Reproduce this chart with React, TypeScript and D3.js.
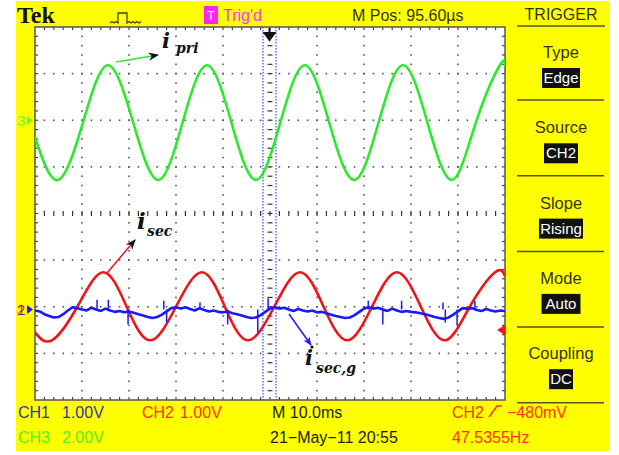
import React from 'react';
import * as d3 from 'd3';

// CH3 (green, 2.00 V/div, marker at +2 div): [time ms, volts]
const ch3Trace: [number, number][] = [
  [0, -0.73], [4.9, -2.56], [10.2, -0.1], [15.5, 2.36], [20.9, -0.1], [26.2, -2.56],
  [31.4, -0.1], [36.6, 2.36], [41.8, -0.1], [47.0, -2.56], [52.2, -0.1], [57.4, 2.36],
  [62.6, -0.1], [67.9, -2.56], [73.1, -0.1], [78.3, 2.36], [83.5, -0.1], [88.7, -2.56],
  [93.8, -0.1], [98.9, 2.36], [100, 2.3],
];
// CH2 (red, 1.00 V/div, marker at -2 div): [time ms, volts]
const ch2Trace: [number, number][] = [
  [0, -0.55], [3.6, -0.72], [9.0, 0], [14.5, 0.74], [19.5, 0], [24.5, -0.72],
  [30.0, 0], [35.5, 0.74], [40.4, 0], [45.3, -0.72], [50.9, 0], [56.4, 0.74],
  [61.4, 0], [66.4, -0.72], [71.7, 0], [77.0, 0.74], [82.1, 0], [87.2, -0.72],
  [92.5, 0], [97.9, 0.74], [100, 0.66],
];
// CH1 (blue, 1.00 V/div, marker at -2 div): volts sampled every 1 ms from 0 to 100 ms
const ch1Trace: number[] = [
  -0.02, -0.04, -0.10, -0.14, -0.17, -0.16, -0.10, -0.02, 0.05, 0.03,
  0.00, -0.02, 0.04, 0.00, -0.03, 0.02, -0.02, -0.05, -0.03, -0.06,
  -0.04, -0.07, -0.10, -0.13, -0.16, -0.18, -0.16, -0.11, -0.04, 0.03,
  0.05, 0.02, 0.05, 0.01, -0.02, 0.03, -0.01, -0.04, -0.02, -0.05,
  -0.06, -0.04, -0.08, -0.10, -0.13, -0.16, -0.18, -0.17, -0.12, -0.05,
  0.02, 0.05, 0.02, 0.04, 0.00, -0.03, 0.01, -0.02, -0.04, -0.02,
  -0.06, -0.05, -0.08, -0.11, -0.14, -0.16, -0.18, -0.17, -0.12, -0.05,
  0.02, 0.05, 0.02, 0.04, 0.00, -0.03, 0.02, -0.02, -0.05, -0.03,
  -0.05, -0.06, -0.08, -0.10, -0.13, -0.16, -0.18, -0.20, -0.17, -0.11,
  -0.04, 0.03, 0.02, 0.03, -0.01, -0.03, 0.01, -0.02, -0.04, -0.02,
  -0.03,
];
// CH1 glitches: [time ms, volts at tip]
const ch1Spikes: [number, number][] = [
  [13.2, 0.21], [15.6, 0.21], [19.8, -0.32], [27.4, 0.19], [28.0, -0.28], [35.1, 0.15],
  [41.0, -0.32], [47.4, -0.5], [49.6, 0.24], [70.9, 0.19], [74.0, -0.32], [78.0, 0.19],
  [86.8, 0.15], [87.3, -0.28], [89.8, -0.34], [93.6, 0.19],
];

const menuLabels = ['Type', 'Source', 'Slope', 'Mode', 'Coupling'];
const menuValues = ['Edge', 'CH2', 'Rising', 'Auto', 'DC'];

// ---------- layout ----------
const W = 619, H = 455;
const X0 = 35, X1 = 505, Y0 = 27, Y1 = 400;
const FONT = "'Liberation Sans', Arial, sans-serif";
const boxW: Record<string, number> = { Edge: 38, CH2: 34, Rising: 44, Auto: 39, DC: 24 };

const x = d3.scaleLinear().domain([0, 100]).range([X0, X1]);
const yDiv = d3.scaleLinear().domain([-4, 4]).range([Y1, Y0]);

const chY = (offset: number, vPerDiv: number) => (v: number) => yDiv(offset + v / vPerDiv);
const y3 = chY(2, 2);
const y2 = chY(-2, 1);
const y1 = chY(-2.06, 1);

const line3 = d3.line<[number, number]>().x(d => x(d[0])).y(d => y3(d[1])).curve(d3.curveNatural);
const line2 = d3.line<[number, number]>().x(d => x(d[0])).y(d => y2(d[1])).curve(d3.curveNatural);
const line1 = d3.line<number>().x((_, i) => x(i)).y(d => y1(d)).curve(d3.curveLinear);

function Grid() {
  const els: React.ReactNode[] = [];
  const xs = d3.range(0, 51).map(j => X0 + (j * (X1 - X0)) / 50);
  const ys = d3.range(0, 41).map(j => Y0 + (j * (Y1 - Y0)) / 40);
  // vertical grid lines (dots)
  for (let k = 1; k < 10; k++) {
    const gx = X0 + (k * (X1 - X0)) / 10;
    ys.forEach((gy, j) => {
      if (j === 0 || j === 40) return;
      if (k === 5) els.push(<line key={`vc${j}`} x1={gx - 2.5} x2={gx + 2.5} y1={gy} y2={gy} stroke="#333" strokeWidth={1.2} />);
      else els.push(<rect key={`v${k}-${j}`} x={gx - 0.8} y={gy - 0.8} width={1.6} height={1.6} fill="#555" />);
    });
  }
  for (let m = 1; m < 8; m++) {
    const gy = Y0 + (m * (Y1 - Y0)) / 8;
    xs.forEach((gx, j) => {
      if (j === 0 || j === 50) return;
      if (m === 4) els.push(<line key={`hc${j}`} x1={gx} x2={gx} y1={gy - 2.5} y2={gy + 2.5} stroke="#333" strokeWidth={1.2} />);
      else els.push(<rect key={`h${m}-${j}`} x={gx - 0.8} y={gy - 0.8} width={1.6} height={1.6} fill="#555" />);
    });
  }
  // border ticks
  xs.forEach((gx, j) => {
    if (j === 0 || j === 50) return;
    els.push(<line key={`tt${j}`} x1={gx} x2={gx} y1={Y0} y2={Y0 + 3} stroke="#444" strokeWidth={1.2} />);
    els.push(<line key={`tb${j}`} x1={gx} x2={gx} y1={Y1 - 3} y2={Y1} stroke="#444" strokeWidth={1.2} />);
  });
  ys.forEach((gy, j) => {
    if (j === 0 || j === 40) return;
    els.push(<line key={`tl${j}`} x1={X0} x2={X0 + 3} y1={gy} y2={gy} stroke="#444" strokeWidth={1.2} />);
    els.push(<line key={`tr${j}`} x1={X1 - 3} x2={X1} y1={gy} y2={gy} stroke="#444" strokeWidth={1.2} />);
  });
  return <g>{els}</g>;
}

export default function App() {
  const sepYs = d3.range(0, 5).map(i => 100 + i * 75.7);
  return (
    <svg width={W} height={H} style={{ position: 'absolute', left: 0, top: 0 }} fontFamily={FONT}>
      <defs>
        <marker id="ah" viewBox="0 0 10 10" refX="9" refY="5" markerWidth="7" markerHeight="7" orient="auto">
          <path d="M0,1 L10,5 L0,9 L3,5 Z" fill="#111" />
        </marker>
        <marker id="ahb" viewBox="0 0 10 10" refX="9" refY="5" markerWidth="6" markerHeight="6" orient="auto">
          <path d="M0,1 L10,5 L0,9 L3,5 Z" fill="#1a1aff" />
        </marker>
        <clipPath id="plotclip"><rect x={X0} y={Y0} width={X1 - X0} height={Y1 - Y0} /></clipPath>
      </defs>
      <rect x={0} y={0} width={W} height={H} fill="#fff" />
      <rect x={16} y={1} width={594} height={450} fill="#ffff00" />

      {/* header */}
      <text x={17} y={23} fontFamily="'Liberation Serif', 'Times New Roman', serif" fontWeight="bold" fontSize={24} fill="#111">Tek</text>
      <path d="M110,23 l2,-1.5 l2,1.5 l2,-1.5 l2,1.5 V13 H127 V23 l2,-1.5 l2,1.5 l2,-1.5 l2,1.5 l2,-1.5 l2,1.5 l2,-1.5" fill="none" stroke="#444400" strokeWidth={1.3} />
      <rect x={204} y={6} width={14} height={18} fill="#ff22ff" />
      <text x={211} y={20} textAnchor="middle" fontSize={12} fill="#fff">T</text>
      <text x={223} y={21} fontSize={16} fill="#ff33ff">Trig'd</text>
      <text x={352} y={21} fontSize={16} fill="#333300">M Pos: 95.60µs</text>
      <text x={561} y={20} textAnchor="middle" fontSize={16} fill="#333300">TRIGGER</text>
      <line x1={517} x2={605} y1={26} y2={26} stroke="#555522" strokeWidth={1.5} />

      {/* menu */}
      {menuLabels.map((lab, i) => {
        const val = menuValues[i];
        const bw = boxW[val];
        return (
          <g key={lab}>
            <text x={561} y={58 + i * 75.3} textAnchor="middle" fontSize={16.5} fill="#333300">{lab}</text>
            <rect x={561 - bw / 2} y={68 + i * 75.3} width={bw} height={20} fill="#111" />
            <text x={561} y={83 + i * 75.3} textAnchor="middle" fontSize={15} fill="#fff">{val}</text>
          </g>
        );
      })}
      {sepYs.map((sy, i) => (
        <line key={i} x1={517} x2={604} y1={sy} y2={sy} stroke="#555522" strokeWidth={1.5} />
      ))}

      {/* plot */}
      <rect x={X0} y={Y0} width={X1 - X0} height={Y1 - Y0} fill="#fff" />
      <Grid />
      {/* trigger position markers */}
      <line x1={263} x2={263} y1={Y0} y2={Y1} stroke="#6a6aff" strokeWidth={1.5} strokeDasharray="1.5,1.5" />
      <line x1={276} x2={276} y1={Y0} y2={Y1} stroke="#6a6aff" strokeWidth={1.5} strokeDasharray="1.5,1.5" />
      <path d="M269.5,28 V35 M264.5,33 L269.5,40 L274.5,33 Z" stroke="#111" strokeWidth={2} fill="#111" />
      <rect x={X0} y={Y0} width={X1 - X0} height={Y1 - Y0} fill="none" stroke="#555" strokeWidth={1.5} />

      <g clipPath="url(#plotclip)">
        <path d={line3(ch3Trace) ?? ''} fill="none" stroke="#2ee82e" strokeWidth={2.6} strokeLinejoin="round" />
        <path d={line2(ch2Trace) ?? ''} fill="none" stroke="#ee1515" strokeWidth={2.6} strokeLinejoin="round" />
        <path d={line1(ch1Trace) ?? ''} fill="none" stroke="#1a1aff" strokeWidth={2.6} strokeLinejoin="round" />
        {ch1Spikes.map(([t, v], i) => (
          <line key={i} x1={x(t)} x2={x(t)} y1={y1(0)} y2={y1(v)} stroke="#1a1aff" strokeWidth={1.5} />
        ))}
      </g>

      {/* channel markers */}
      <text x={17} y={126} fontSize={15} fill="#66ff33">3</text>
      <path d="M27,116 L33,120.5 L27,125 Z" fill="#66ff33" />
      <text x={17} y={315} fontSize={15} fill="#ee2222">2</text>
      <text x={17} y={315} fontSize={15} fill="#2222cc" opacity={0.7}>1</text>
      <path d="M27,305 L33,309.5 L27,314 Z" fill="#1a1aff" />
      <path d="M497,330 L505,325 L505,335 Z" fill="#ee1515" />

      {/* annotations */}
      <line x1={116} y1={62} x2={158} y2={55} stroke="#2ee82e" strokeWidth={1.5} markerEnd="url(#ah)" />
      <text x={162} y={48} fontFamily="'DejaVu Serif', serif" fontStyle="italic" fontWeight="bold" fontSize={21} fill="#111">i</text>
      <text x={176} y={53} fontFamily="'DejaVu Serif', serif" fontStyle="italic" fontWeight="bold" fontSize={14} fill="#111">pri</text>

      <line x1={107} y1={273} x2={135} y2={240} stroke="#ee1515" strokeWidth={1.5} markerEnd="url(#ah)" />
      <text x={137} y={229} fontFamily="'DejaVu Serif', serif" fontStyle="italic" fontWeight="bold" fontSize={23} fill="#111">i</text>
      <text x={147} y={236} fontFamily="'DejaVu Serif', serif" fontStyle="italic" fontWeight="bold" fontSize={14} fill="#111">sec</text>

      <line x1={289} y1={314} x2={311} y2={345} stroke="#1a1aff" strokeWidth={1.5} markerEnd="url(#ahb)" />
      <circle cx={312} cy={347} r={1.6} fill="#111" />
      <text x={305} y={365} fontFamily="'DejaVu Serif', serif" fontStyle="italic" fontWeight="bold" fontSize={21} fill="#111">i</text>
      <text x={316} y={373} fontFamily="'DejaVu Serif', serif" fontStyle="italic" fontWeight="bold" fontSize={14} fill="#111">sec,g</text>

      {/* bottom status */}
      <text x={18} y={418} fontSize={16} fill="#3333bb">CH1</text>
      <text x={62} y={418} fontSize={16} fill="#3333bb">1.00V</text>
      <text x={142} y={418} fontSize={16} fill="#ff3311">CH2</text>
      <text x={180} y={418} fontSize={16} fill="#ff3311">1.00V</text>
      <text x={272} y={418} fontSize={16} fill="#222200">M 10.0ms</text>
      <text x={452} y={418} fontSize={16} fill="#ff3311">CH2</text>
      <path d="M489,417 L497,406 H502" fill="none" stroke="#ff3311" strokeWidth={1.5} />
      <text x={507} y={418} fontSize={16} fill="#ff3311">−480mV</text>
      <text x={18} y={443} fontSize={16} fill="#55ee22">CH3</text>
      <text x={62} y={443} fontSize={16} fill="#55ee22">2.00V</text>
      <text x={270} y={443} fontSize={16} fill="#222200">21−May−11 20:55</text>
      <text x={452} y={443} fontSize={16} fill="#ff3311">47.5355Hz</text>
    </svg>
  );
}
